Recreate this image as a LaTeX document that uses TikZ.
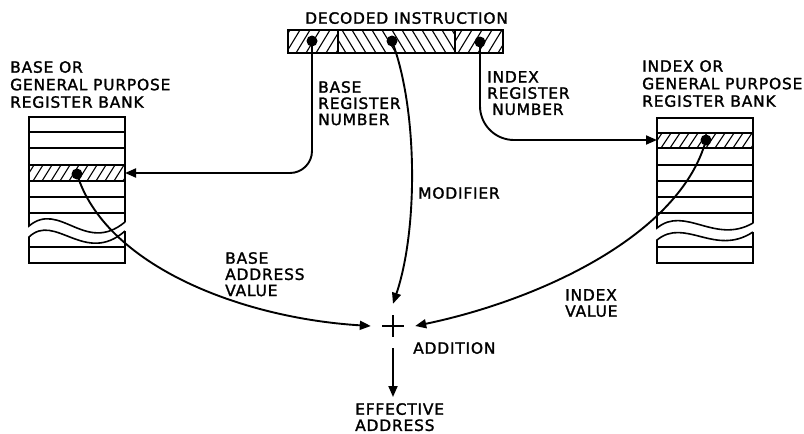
\documentclass[tikz,border=0pt]{standalone}
\usepackage{fontspec}
\setmainfont{DejaVu Sans}[LetterSpace=5,FakeBold=1.6]
\usetikzlibrary{arrows.meta}
\begin{document}
\begin{tikzpicture}[x=1pt,y=-1pt,
  lbl/.style={font=\fontsize{15.5}{16.2}\selectfont, align=left, inner sep=0pt, anchor=north west},
  wire/.style={line width=1.9pt, -{Triangle[length=11pt,width=9pt]}},
  frame/.style={line width=1.6pt},
  hatch/.style={line width=1.1pt},
  dot/.style={circle, fill=black, inner sep=0pt, minimum size=11pt}]
\useasboundingbox (0,0) rectangle (804,434);

% ---------- decoded instruction ----------
\begin{scope}
  \clip (288,30) rectangle (338,53);
  \foreach \x in {266,276,...,342} \draw[hatch] (\x,53) -- (\x+14,30);
\end{scope}
\begin{scope}
  \clip (338,30) rectangle (455,53);
  \foreach \x in {322,332,...,460} \draw[hatch] (\x,30) -- (\x+14,53);
\end{scope}
\begin{scope}
  \clip (455,30) rectangle (503,53);
  \foreach \x in {438,448,...,506} \draw[hatch] (\x,53) -- (\x+14,30);
\end{scope}
\draw[frame] (288,30) rectangle (503,53);
\draw[frame] (338,30) -- (338,53) (455,30) -- (455,53);
\node[dot] (d1) at (312,41) {};
\node[dot] (d2) at (392,41) {};
\node[dot] (d3) at (480,42) {};

% ---------- left bank ----------
\begin{scope}
  \clip (29,165) rectangle (125,181);
  \foreach \x in {15,24,...,130} \draw[hatch] (\x,181) -- (\x+10,165);
\end{scope}
\draw[frame] (125,222) -- (125,117) -- (29,117) -- (29,226)
  .. controls (60,200) and (85,255) .. (125,222);
\foreach \y in {132,148,165,181,197,213} \draw[frame] (29,\y) -- (125,\y);
\draw[frame] (125,231) -- (125,263) -- (29,263) -- (29,237)
  .. controls (55,212) and (85,266) .. (125,231);
\draw[frame] (29,247) -- (125,247);
\node[dot] (bd) at (77,174) {};
\coordinate (bin) at (125,173);

% ---------- right bank ----------
\begin{scope}
  \clip (657,133) rectangle (753,148);
  \foreach \x in {643,652,...,760} \draw[hatch] (\x,148) -- (\x+10,133);
\end{scope}
\draw[frame] (753,223) -- (753,118) -- (657,118) -- (657,228)
  .. controls (685,205) and (715,245) .. (753,223);
\foreach \y in {133,148,165,181,197,213} \draw[frame] (657,\y) -- (753,\y);
\draw[frame] (753,232) -- (753,263) -- (657,263) -- (657,240)
  .. controls (685,217) and (715,257) .. (753,232);
\draw[frame] (657,247) -- (753,247);
\node[dot] (id) at (706,140) {};
\coordinate (iin) at (657,140);

% ---------- addition ----------
\node[circle, minimum size=44pt, inner sep=0pt] (plus) at (393,326) {};
\draw[line width=1.6pt] (382,326) -- (404,326) (393,315) -- (393,337);
\coordinate (eatip) at (393,397);

% ---------- connectors ----------
\draw[wire, rounded corners=22pt] (d1.center) |- (bin);
\draw[wire, rounded corners=34pt] (d3.center) |- (iin);
\draw[wire] (d2.center) .. controls (418,110) and (418,230) .. (plus.north);
\draw[wire] (bd.center) .. controls (105,265) and (240,318) .. (plus.west);
\draw[wire] (id.center) .. controls (680,235) and (540,300) .. (plus.east);
\draw[wire] (plus.south) -- (eatip);

% ---------- labels ----------
\node[lbl] (di) at (305,12) {DECODED INSTRUCTION};
\node[lbl, font=\fontsize{15.5}{17.5}\selectfont] (lb) at (10,61) {BASE OR\\GENERAL PURPOSE\\REGISTER BANK};
\node[lbl, font=\fontsize{15.5}{17.5}\selectfont] (rb) at (642,60) {INDEX OR\\GENERAL PURPOSE\\REGISTER BANK};
\node[lbl] (brn) at (318,81) {BASE\\REGISTER\\NUMBER};
\node[lbl] (irn) at (487,71) {INDEX\\REGISTER\\\hspace*{5pt}NUMBER};
\node[lbl] (mod) at (418,187) {MODIFIER};
\node[lbl] (bav) at (225,252) {BASE\\ADDRESS\\VALUE};
\node[lbl] (iv) at (565,289) {INDEX\\VALUE};
\node[lbl] (add) at (413,342) {ADDITION};
\node[lbl] (ea) at (355,403) {EFFECTIVE\\ADDRESS};
\end{tikzpicture}
\end{document}
